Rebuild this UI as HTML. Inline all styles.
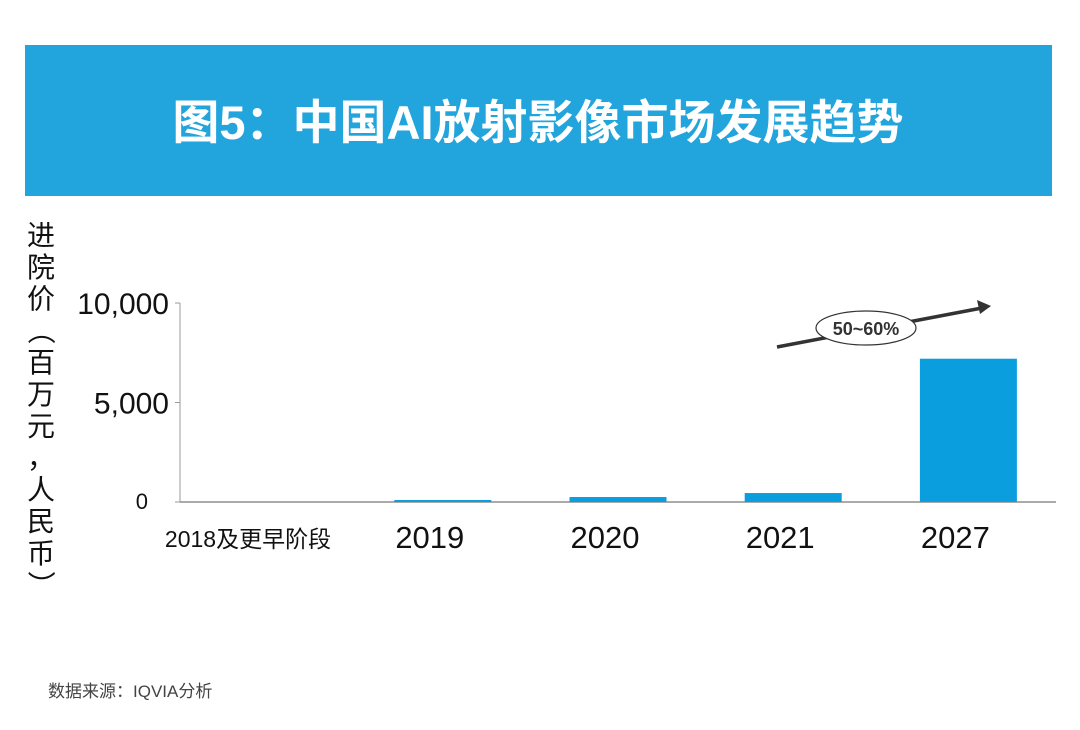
<!DOCTYPE html>
<html><head><meta charset="utf-8"><style>
body{margin:0;background:#fff;width:1080px;height:725px;overflow:hidden;font-family:"Liberation Sans","Noto Sans CJK SC",sans-serif}
</style></head><body>
<svg width="1080" height="725">
<rect x="25" y="45" width="1027" height="151" fill="#22a4dc"/>
<text x="538" y="139" text-anchor="middle" fill="#fff" font-size="47" font-weight="bold" font-family="Liberation Sans, Noto Sans CJK SC, sans-serif">图5：中国AI放射影像市场发展趋势</text>
<text x="48" y="697" font-size="17" fill="#444" font-family="Liberation Sans, Noto Sans CJK SC, sans-serif">数据来源：IQVIA分析</text>
<g id="ytitle" font-size="28" fill="#111" font-family="Noto Sans CJK SC, sans-serif"></g>
<g id="axes"></g>
<g id="bars"></g>
<g id="xlabels"></g>
<g>
<line x1="777" y1="347" x2="982" y2="308" stroke="#333" stroke-width="3.5"/>
<polygon points="991,306 977,300 980,314" fill="#333"/>
<ellipse cx="866" cy="328" rx="50" ry="17" fill="#fff" stroke="#333" stroke-width="1.2"/>
<text x="866" y="335" text-anchor="middle" font-size="18" font-weight="bold" fill="#333">50~60%</text>
</g>
</svg>
<script>
const categories=["2018及更早阶段","2019","2020","2021","2027"];
const values=[0,100,250,450,7200];
const ticks=[0,5000,10000];
const tickLabels=["0","5,000","10,000"];
const NS="http://www.w3.org/2000/svg";
const x0=180,x1=1056,y0=502,yTop=303,ymax=10000;
const slot=(x1-x0)/categories.length;
const y=v=>y0-(v/ymax)*(y0-yTop);
const xc=i=>x0+slot*(i+0.5);
function mk(t,a,p){const e=document.createElementNS(NS,t);for(const k in a)e.setAttribute(k,a[k]);p.appendChild(e);return e;}
const axes=document.getElementById('axes');
const xa=mk('line',{x1:x0,y1:y0,x2:x1,y2:y0,stroke:'#777','stroke-width':1.2},axes);


const ya=mk('line',{x1:x0,y1:y0,x2:x0,y2:yTop,stroke:'#999','stroke-width':1},axes);


ticks.forEach((t,i)=>{
 mk('line',{x1:x0-5,x2:x0,y1:y(t),y2:y(t),stroke:'#999'},axes);
 const tx=mk('text',{x:i==0?148:(x0-11),y:y(t)+(i==0?7:11),'text-anchor':'end','font-size':i==0?22:30,fill:'#111'},axes);
 tx.textContent=tickLabels[i];
 
 
});
const bars=document.getElementById('bars');
const bw=97;
values.forEach((v,i)=>{
 if(v<=0)return;
 const r=mk('rect',{x:xc(i)-bw/2,y:y(v),width:bw,height:y0-y(v),fill:'#0a9ede'},bars);
 
 
});
const xl=document.getElementById('xlabels');
categories.forEach((c,i)=>{
 const first=i==0;
 const t=mk('text',{x:first?248:xc(i)-13,y:first?547:548,'text-anchor':'middle','font-size':first?23:31,fill:'#111','font-family':'Liberation Sans, Noto Sans CJK SC, sans-serif'},xl);
 t.textContent=c;
 
 
});
const yt=document.getElementById('ytitle');
const chars=["进","院","价","（","百","万","元","，","人","民","币","）"];
chars.forEach((ch,i)=>{
 const cy=245+i*31.8;
 const t=mk('text',{x:41,y:cy,'text-anchor':'middle'},yt);
 if(ch=="（"||ch=="）"){t.setAttribute('transform','rotate(90 41 '+(cy-10)+')');}
 t.textContent=ch;
});
</script>
</body></html>
